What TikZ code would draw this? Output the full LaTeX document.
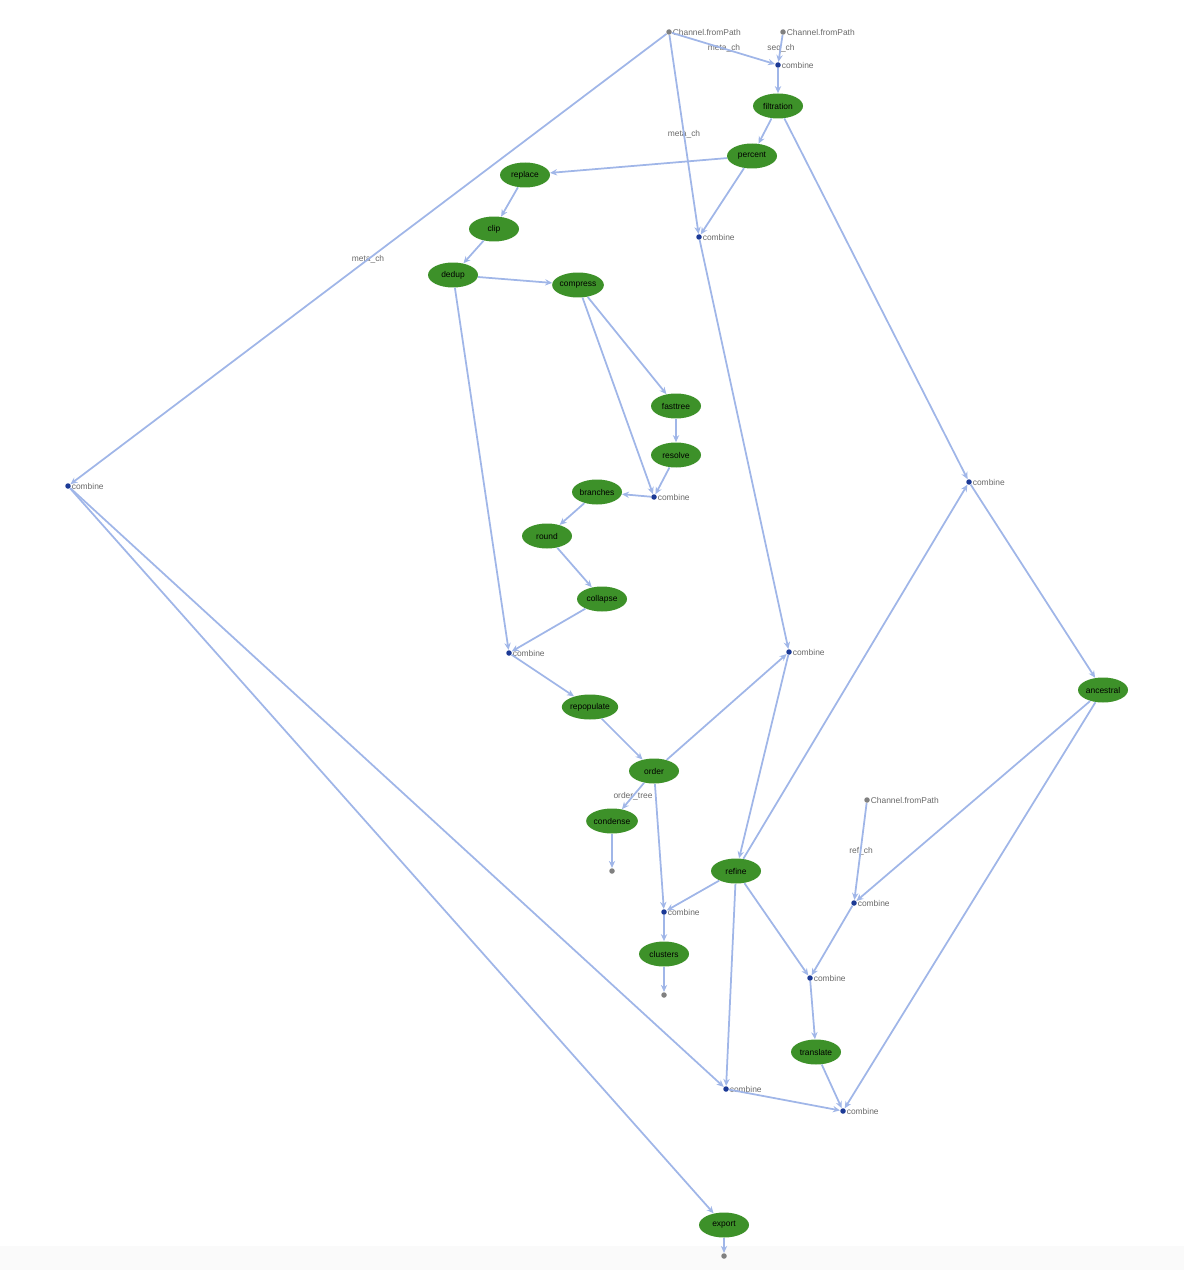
\documentclass[tikz,border=0pt]{standalone}
\usepackage{fontspec}
\setmainfont{Liberation Sans}
\usetikzlibrary{shapes.geometric,arrows.meta}

\definecolor{edgeblue}{RGB}{160,182,232}
\definecolor{procgreen}{RGB}{61,145,41}
\definecolor{dotblue}{RGB}{28,58,150}
\definecolor{dotgray}{RGB}{128,128,128}
\definecolor{txtgray}{RGB}{105,105,105}

\tikzset{
  proc/.style={ellipse,fill=procgreen,minimum width=1cm,minimum height=0.5cm,inner sep=0pt,font=\fontsize{4.8}{5}\selectfont},
  lbl/.style={text=txtgray,font=\fontsize{4.8}{5}\selectfont,inner sep=0.6pt},
  side/.style={lbl,inner sep=0.2pt,label distance=0pt},
  comb/.style={circle,fill=dotblue,inner sep=0pt,minimum size=0.11cm,label={[side]right:combine}},
  src/.style={circle,fill=dotgray,inner sep=0pt,minimum size=0.11cm},
  flow/.style={draw=edgeblue,line width=1pt,-{Stealth[length=4pt,width=3.6pt]}},
}

\begin{document}
\begin{tikzpicture}[x=0.02cm,y=-0.02cm]
\useasboundingbox (0,0) rectangle (1184,1270);
\fill[black!2] (0,1246) rectangle (1184,1270);

% sources
\node(path1) at (669,32)[src,label={[side]right:Channel.fromPath}]{};
\node(path2) at (783,32)[src,label={[side]right:Channel.fromPath}]{};
\node(path3) at (867,800)[src,label={[side]right:Channel.fromPath}]{};

% combine points
\node(c1) at (778,65)[comb]{};
\node(c2) at (699,237)[comb]{};
\node(c3) at (654,497)[comb]{};
\node(c4) at (509,653)[comb]{};
\node(c5) at (789,652)[comb]{};
\node(c6) at (969,482)[comb]{};
\node(c7) at (68,486)[comb]{};
\node(c8) at (664,912)[comb]{};
\node(c9) at (854,903)[comb]{};
\node(c10) at (810,978)[comb]{};
\node(c11) at (726,1089)[comb]{};
\node(c12) at (843,1111)[comb]{};

% processes
\node(filtration) at (778,106)[proc]{filtration};
\node(percent) at (752,156)[proc]{percent};
\node(replace) at (525,175)[proc]{replace};
\node(clip) at (494,229)[proc]{clip};
\node(dedup) at (453,275)[proc]{dedup};
\node(compress) at (578,285)[proc]{compress};
\node(fasttree) at (676,406)[proc]{fasttree};
\node(resolve) at (676,455)[proc]{resolve};
\node(branches) at (597,492)[proc]{branches};
\node(round) at (547,536)[proc]{round};
\node(collapse) at (602,599)[proc]{collapse};
\node(repopulate) at (590,707)[proc]{repopulate};
\node(order) at (654,771)[proc]{order};
\node(condense) at (612,821)[proc]{condense};
\node(ancestral) at (1103,690)[proc]{ancestral};
\node(refine) at (736,871)[proc]{refine};
\node(clusters) at (664,954)[proc]{clusters};
\node(translate) at (816,1052)[proc]{translate};
\node(export) at (724,1225)[proc]{export};

% outputs
\node(out1) at (612,871)[src]{};
\node(out2) at (664,995)[src]{};
\node(out3) at (724,1256)[src]{};

% channel names
\node(l1) at (724,48)[lbl]{meta\_ch};
\node(l2) at (781,48)[lbl]{seq\_ch};
\node(l3) at (684,134)[lbl]{meta\_ch};
\node(l4) at (368,259)[lbl]{meta\_ch};
\node(l5) at (633,796)[lbl]{order\_tree};
\node(l6) at (861,851)[lbl]{ref\_ch};

\draw[flow] (path1) -- (c1);
\draw[flow] (path2) -- (c1);
\draw[flow] (c1) -- (filtration);
\draw[flow] (filtration) -- (percent);
\draw[flow] (filtration) -- (c6);
\draw[flow] (percent) -- (replace);
\draw[flow] (percent) -- (c2);
\draw[flow] (path1) -- (c2);
\draw[flow] (path1) -- (c7);
\draw[flow] (replace) -- (clip);
\draw[flow] (clip) -- (dedup);
\draw[flow] (dedup) -- (compress);
\draw[flow] (dedup) -- (c4);
\draw[flow] (compress) -- (fasttree);
\draw[flow] (compress) -- (c3);
\draw[flow] (fasttree) -- (resolve);
\draw[flow] (resolve) -- (c3);
\draw[flow] (c3) -- (branches);
\draw[flow] (branches) -- (round);
\draw[flow] (round) -- (collapse);
\draw[flow] (collapse) -- (c4);
\draw[flow] (c4) -- (repopulate);
\draw[flow] (repopulate) -- (order);
\draw[flow] (c2) -- (c5);
\draw[flow] (order) -- (c5);
\draw[flow] (c5) -- (refine);
\draw[flow] (refine) -- (c6);
\draw[flow] (c6) -- (ancestral);
\draw[flow] (order) -- (condense);
\draw[flow] (condense) -- (out1);
\draw[flow] (order) -- (c8);
\draw[flow] (refine) -- (c8);
\draw[flow] (c8) -- (clusters);
\draw[flow] (clusters) -- (out2);
\draw[flow] (path3) -- (c9);
\draw[flow] (ancestral) -- (c9);
\draw[flow] (refine) -- (c10);
\draw[flow] (c9) -- (c10);
\draw[flow] (c10) -- (translate);
\draw[flow] (translate) -- (c12);
\draw[flow] (ancestral) -- (c12);
\draw[flow] (refine) -- (c11);
\draw[flow] (c7) -- (c11);
\draw[flow] (c11) -- (c12);
\draw[flow] (c7) -- (export);
\draw[flow] (export) -- (out3);

\end{tikzpicture}
\end{document}
